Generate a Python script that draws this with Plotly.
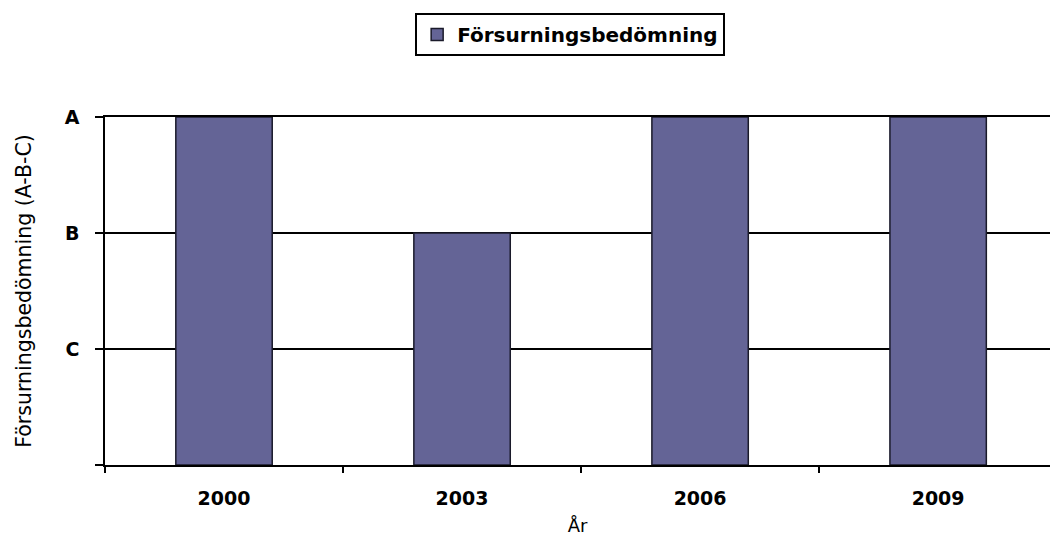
import plotly.graph_objects as go

# Acidification assessment per survey year (A best, C worst)
years = ["2000", "2003", "2006", "2009"]
grades = ["A", "B", "A", "A"]
grade_levels = ["", "C", "B", "A"]  # tick labels for levels 0..3

grade_value = {g: i for i, g in enumerate(grade_levels)}
values = [grade_value[g] for g in grades]

bar_color = "#646496"
font_family = "DejaVu Sans, Verdana, Tahoma, sans-serif"

fig = go.Figure()
fig.add_trace(go.Bar(
    x=years,
    y=values,
    name="Försurningsbedömning",
    width=0.405,
    marker=dict(color=bar_color, line=dict(color="#1a1a2a", width=1.5)),
    hoverinfo="x+y",
))

fig.update_layout(
    width=1050,
    height=543,
    margin=dict(l=105, r=0, t=117, b=78),
    paper_bgcolor="white",
    plot_bgcolor="white",
    font=dict(family=font_family, color="black"),
    showlegend=True,
    legend=dict(
        xref="container", yref="container",
        x=0.543, y=0.976, xanchor="center", yanchor="top",
        orientation="h",
        bordercolor="black", borderwidth=2,
        font=dict(size=20, weight="bold", color="black"),
        itemwidth=30,
        tracegroupgap=0,
    ),
    bargap=0.6,
)

fig.update_xaxes(
    type="category",
    range=[-0.5, 3.47],
    showline=True, linecolor="black", linewidth=1.5, mirror=True,
    ticks="outside", tickson="boundaries", ticklen=6, tickcolor="black", tickwidth=1.5,
    tickfont=dict(size=19, weight="bold", color="black"),
    ticklabelstandoff=15,
    showgrid=False,
    title=dict(text="År", font=dict(size=18, color="black"), standoff=12),
)

fig.update_yaxes(
    range=[0, 3],
    tickmode="array",
    tickvals=list(range(len(grade_levels))),
    ticktext=grade_levels,
    showline=True, linecolor="black", linewidth=1.5,
    ticks="outside", ticklen=8, tickcolor="black", tickwidth=1.5,
    tickfont=dict(size=19, weight="bold", color="black"),
    ticklabelstandoff=12,
    showgrid=True, gridcolor="black", gridwidth=1.5,
    zeroline=False,
    title=dict(text="Försurningsbedömning (A-B-C)", font=dict(size=20.5, color="black"), standoff=28),
)

fig.write_html("out.html")
